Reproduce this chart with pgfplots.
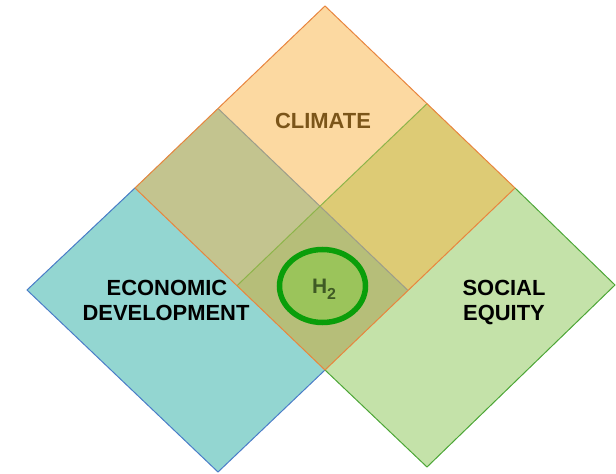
\documentclass[border=0pt]{standalone}
\usepackage{pgfplots}
\pgfplotsset{compat=1.18}
\usepackage{fontspec}
\setmainfont{Liberation Sans}
\definecolor{cClim}{HTML}{FCD9A1}
\definecolor{cEco}{HTML}{93D6D1}
\definecolor{cSoc}{HTML}{C4E2A9}
\definecolor{cCE}{HTML}{C3C48F}
\definecolor{cCS}{HTML}{DDCB75}
\definecolor{cCES}{HTML}{B6BE79}
\definecolor{lOr}{HTML}{E8853E}
\definecolor{lBl}{HTML}{4A7CC8}
\definecolor{lGr}{HTML}{4CA636}
\definecolor{lGrIn}{HTML}{8DB44A}
\definecolor{lGy}{HTML}{9D9D8A}
\definecolor{ellFill}{HTML}{9BC45B}
\definecolor{ellLine}{HTML}{0A9E0A}
\definecolor{climTxt}{HTML}{7B5519}
\definecolor{hTxt}{HTML}{3F5A24}
\begin{document}
\begin{tikzpicture}
\begin{axis}[hide axis, scale only axis, width=616bp, height=474bp,
  xmin=0, xmax=616, ymin=0, ymax=474, y dir=reverse, clip=false]
\path (rel axis cs:0,0) rectangle (rel axis cs:1,1);
% base squares
\addplot[draw=none, fill=cEco] coordinates {(218,108.5) (408,290.5) (218,472) (27,290)} --cycle;
\addplot[draw=none, fill=cSoc] coordinates {(427,103.7) (615,285) (427,467) (237,285.7)} --cycle;
\addplot[draw=none, fill=cClim] coordinates {(325,6) (515,188) (325,370) (135,188)} --cycle;
% overlaps
\addplot[draw=none, fill=cCE] coordinates {(135,188) (218,108.5) (408,290.5) (325,370)} --cycle;
\addplot[draw=none, fill=cCS] coordinates {(427,103.7) (515,188) (325,370) (237,285.7)} --cycle;
\addplot[draw=none, fill=cCES] coordinates {(320,206.2) (408,290.5) (325,370) (237,285.7)} --cycle;
% outlines
\addplot[lBl, line width=1bp] coordinates {(135,188) (27,290) (218,472) (325,370)};
\addplot[lGy, line width=1bp] coordinates {(218,108.5) (408,290.5)};
\addplot[lGr, line width=1bp] coordinates {(515,188) (615,285) (427,467) (325,370)};
\addplot[lGrIn, line width=1bp] coordinates {(427,103.7) (237,285.7)};
\addplot[lOr, line width=1bp] coordinates {(325,6) (515,188) (325,370) (135,188)} --cycle;
% ellipse
\draw[ellLine, fill=ellFill, line width=5.5bp] (axis cs:322.5,286) ellipse [x radius=43, y radius=36.5];
% labels
\node[anchor=base, font=\fontsize{22}{26}\selectfont\bfseries, text=climTxt, inner sep=0pt] at (axis cs:323,128) {CLIMATE};
\node[anchor=base, font=\fontsize{22}{26}\selectfont\bfseries, inner sep=0pt] at (axis cs:167,295) {ECONOMIC};
\node[anchor=base, font=\fontsize{22}{26}\selectfont\bfseries, inner sep=0pt] at (axis cs:166,320) {DEVELOPMENT};
\node[anchor=base, font=\fontsize{22}{26}\selectfont\bfseries, inner sep=0pt] at (axis cs:504,295) {SOCIAL};
\node[anchor=base, font=\fontsize{22}{26}\selectfont\bfseries, inner sep=0pt] at (axis cs:504,320) {EQUITY};
\node[anchor=base, text=hTxt, inner sep=0pt] at (axis cs:324,293.5) {\fontsize{21}{24}\selectfont\bfseries H\raisebox{-6bp}{\fontsize{16}{18}\selectfont 2}};
\end{axis}
\end{tikzpicture}
\end{document}
